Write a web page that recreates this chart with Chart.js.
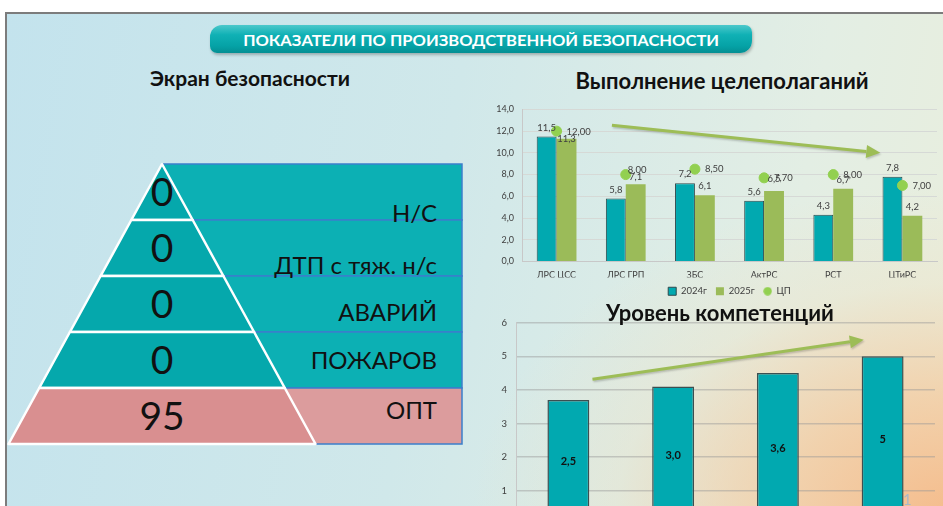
<!DOCTYPE html>
<html><head><meta charset="utf-8">
<script src="https://cdn.jsdelivr.net/npm/chart.js@4.4.1/dist/chart.umd.min.js"></script>
<style>
html,body{margin:0;padding:0;width:943px;height:506px;overflow:hidden;background:#fff;font-family:Lato,"Open Sans",sans-serif;}
#slide{position:absolute;left:5px;top:12px;width:945px;height:500px;border-top:2px solid #7c7c7c;border-left:2px solid #7c7c7c;
 background:
  radial-gradient(ellipse 480px 330px at 100% 100%, rgba(245,188,140,1) 0%, rgba(245,200,155,0.75) 35%, rgba(240,225,195,0.35) 70%, rgba(240,230,205,0) 100%),
  linear-gradient(100deg,#c3e3ed 0%, #d0e8ea 45%, #e3eee4 80%, #e9eedd 100%);}
.abs{position:absolute;}
#banner{left:210px;top:25px;width:542px;height:28px;border-radius:12px 7px 12px 7px;
 background:linear-gradient(to bottom,#4cc8cb 0%,#10b1b5 35%,#05a2a6 75%,#048f93 100%);
 box-shadow:1px 2px 3px rgba(0,0,0,0.25);display:flex;align-items:center;justify-content:center;}
#banner span{color:#fff;font-weight:bold;font-size:16px;white-space:nowrap;display:inline-block;transform-origin:center;}
.title{font-weight:bold;color:#111;white-space:nowrap;transform:translate(-50%,-50%);}
canvas{position:absolute;}
</style></head>
<body>
<div id="slide"></div>
<div id="banner" class="abs"><span id="bannerText"></span></div>
<div id="t1" class="abs title" style="left:250px;top:77px;font-size:21px;"></div>
<div id="t2" class="abs title" style="left:722px;top:80px;font-size:22px;"></div>
<svg id="pyr" class="abs" style="left:0;top:0" width="943" height="506"></svg>
<canvas id="c1" style="left:480px;top:96px" width="463" height="210"></canvas>
<canvas id="c2" style="left:480px;top:308px" width="463" height="231"></canvas>
<div id="t3" class="abs title" style="left:720px;top:312px;font-size:22px;"></div>
<div class="abs" style="left:903px;top:490px;font-size:15px;color:#a9b8c8;">1</div>
<script>
// ---------- DATA ----------
const slideTitle = 'ПОКАЗАТЕЛИ ПО ПРОИЗВОДСТВЕННОЙ БЕЗОПАСНОСТИ';
const pyramidTitle = 'Экран безопасности';
const pyramidValues = ['0','0','0','0','95'];
const pyramidLabels = ['Н/С','ДТП с тяж. н/с','АВАРИЙ','ПОЖАРОВ','ОПТ'];

const goalTitle = 'Выполнение целеполаганий';
const goalCategories = ['ЛРС ЦСС','ЛРС ГРП','ЗБС','АктРС','РСТ','ЦТиРС'];
const goalSeriesNames = ['2024г','2025г','ЦП'];
const goal2024 = [11.5, 5.8, 7.2, 5.6, 4.3, 7.8];
const goal2025 = [11.3, 7.1, 6.1, 6.5, 6.7, 4.2];
const goalTarget = [12.00, 8.00, 8.50, 7.70, 8.00, 7.00];
const goalTicks = [0, 2, 4, 6, 8, 10, 12, 14];

const compTitle = 'Уровень компетенций';
const compCategories = ['1','2','3','4'];
const compValues = [3.7, 4.1, 4.5, 5.0];
const compLabels = ['2,5','3,0','3,6','5'];
const compTicks = [0, 1, 2, 3, 4, 5, 6];

// ---------- STYLE / LAYOUT ----------
const TEAL = '#01a9b0', GREEN = '#9bbb59', DOT = '#92d050', ARROW = '#9dbd56';
// label nudges in pixels (layout only)
const label2025Shift = [[0,9],[0,2],[0,0],[0,-3],[0,0],[0,0]];
const targetLabelShift = [[0,1],[-8,-5],[0,0],[0,0],[0,0],[0,0]];
const fmt = (v, d) => v.toFixed(d).replace('.', ',');

document.getElementById('bannerText').textContent = slideTitle;
document.getElementById('t1').textContent = pyramidTitle;
document.getElementById('t2').textContent = goalTitle;
document.getElementById('t3').textContent = compTitle;
(function(){ const s=document.getElementById('bannerText'); const w=s.getBoundingClientRect().width; s.style.transform='scaleX('+(476/w)+')'; })();

// ---------- PYRAMID ----------
(function(){
  const svg = document.getElementById('pyr'); const NS='http://www.w3.org/2000/svg';
  const apexX=162, topY=164, baseY=444, baseHalf=153.5, panelRight=462;
  const n = pyramidValues.length, rowH=(baseY-topY)/n;
  const pyrFill = i => i===n-1 ? '#d98f90' : '#05a8ac';
  const panFill = i => i===n-1 ? '#dc9c9d' : '#0cb0b4';
  const labelBase = [222, 274, 321, 369, 419];
  const hw = y => (y-topY)/(baseY-topY)*baseHalf;
  const mk=(tag,attrs,txt)=>{const e=document.createElementNS(NS,tag);for(const k in attrs)e.setAttribute(k,attrs[k]);if(txt!==undefined)e.textContent=txt;svg.appendChild(e);return e;};
  for(let i=0;i<n;i++){
    const y0=topY+rowH*i;
    mk('rect',{x:apexX,y:y0,width:panelRight-apexX,height:rowH,fill:panFill(i),stroke:'#3b7fcb','stroke-width':1.5});
  }
  for(let i=0;i<n;i++){
    const y0=topY+rowH*i, y1=y0+rowH;
    const pts=[[apexX-hw(y0),y0],[apexX+hw(y0),y0],[apexX+hw(y1),y1],[apexX-hw(y1),y1]].map(p=>p.join(',')).join(' ');
    mk('polygon',{points:pts,fill:pyrFill(i),stroke:'#ffffff','stroke-width':2.5,'stroke-linejoin':'round'});
  }
  for(let i=0;i<n;i++){
    const y0=topY+rowH*i;
    mk('text',{x:apexX,y:y0+rowH/2+14,'text-anchor':'middle','font-family':'Lato','font-size':39,fill:'#111'},pyramidValues[i]);
    mk('text',{x:437,y:labelBase[i],'text-anchor':'end','font-family':'Lato','font-size':24,fill:'#111'},pyramidLabels[i]);
  }
})();

// small legend dot image
const legendDot = (function(){ const c=document.createElement('canvas'); c.width=9; c.height=9; const g=c.getContext('2d'); g.fillStyle=DOT; g.beginPath(); g.arc(4.5,4.5,4.2,0,Math.PI*2); g.fill(); return c; })();

// ---------- plugins ----------
function arrowPlugin(id, from, to){
  return {id, afterDatasetsDraw(chart){
    const {ctx, scales:{x,y}} = chart;
    const x0=x.getPixelForValue(from[0]), y0=y.getPixelForValue(from[1]);
    const x1=x.getPixelForValue(to[0]), y1=y.getPixelForValue(to[1]);
    const a=Math.atan2(y1-y0,x1-x0), L=14, W=6.5;
    ctx.save(); ctx.strokeStyle=ARROW; ctx.fillStyle=ARROW; ctx.lineWidth=3;
    ctx.shadowColor='rgba(0,0,0,0.2)'; ctx.shadowOffsetX=1; ctx.shadowOffsetY=1.5; ctx.shadowBlur=2;
    ctx.beginPath(); ctx.moveTo(x0,y0); ctx.lineTo(x1-L*Math.cos(a),y1-L*Math.sin(a)); ctx.stroke();
    ctx.beginPath(); ctx.moveTo(x1,y1);
    ctx.lineTo(x1-L*Math.cos(a)+W*Math.sin(a), y1-L*Math.sin(a)-W*Math.cos(a));
    ctx.lineTo(x1-L*Math.cos(a)-W*Math.sin(a), y1-L*Math.sin(a)+W*Math.cos(a));
    ctx.closePath(); ctx.fill(); ctx.restore();
  }};
}
const goalLabels = {id:'goalLabels', afterDatasetsDraw(chart){
  const ctx=chart.ctx; ctx.save(); ctx.font='9.5px Lato'; ctx.fillStyle='#404040'; ctx.textBaseline='middle'; ctx.textAlign='center';
  chart.getDatasetMeta(0).data.forEach((el,i)=>{ ctx.fillText(fmt(goal2024[i],1), el.x, el.y-9); });
  chart.getDatasetMeta(1).data.forEach((el,i)=>{ ctx.fillText(fmt(goal2025[i],1), el.x+label2025Shift[i][0], el.y-9+label2025Shift[i][1]); });
  ctx.textAlign='left';
  chart.getDatasetMeta(2).data.forEach((el,i)=>{ ctx.fillText(fmt(goalTarget[i],2), el.x+10+targetLabelShift[i][0], el.y+targetLabelShift[i][1]); });
  ctx.restore();
}};
const compLabelPlugin = {id:'compLabels', afterDatasetsDraw(chart){
  const ctx=chart.ctx; ctx.save(); ctx.font='bold 11px Lato'; ctx.fillStyle='#111'; ctx.textAlign='center'; ctx.textBaseline='middle';
  chart.getDatasetMeta(0).data.forEach((el,i)=>{ ctx.fillText(compLabels[i], el.x, (el.y+el.base)/2); });
  ctx.restore();
}};

Chart.defaults.font.family = 'Lato';
Chart.defaults.color = '#404040';

// ---------- CHART 1 ----------
new Chart(document.getElementById('c1'), {
  type:'bar',
  data:{ labels: goalCategories, datasets:[
    {label:goalSeriesNames[0], data:goal2024, backgroundColor:TEAL, borderColor:'#2e4a4d', borderWidth:1, pointStyle:'rect', categoryPercentage:0.575, barPercentage:1, order:2},
    {label:goalSeriesNames[1], data:goal2025, backgroundColor:GREEN, borderColor:GREEN, borderWidth:0, pointStyle:'rect', categoryPercentage:0.575, barPercentage:1, order:2},
    {type:'line', label:goalSeriesNames[2], data:goalTarget, showLine:false, pointStyle:'circle', pointRadius:5, pointBackgroundColor:DOT, pointBorderColor:DOT, backgroundColor:DOT, borderColor:DOT, order:0}
  ]},
  options:{ responsive:false, animation:false, devicePixelRatio:1,
    layout:{padding:{top:11,right:3,bottom:0,left:0}},
    plugins:{ tooltip:{enabled:false},
      legend:{position:'bottom', fullSize:false, labels:{usePointStyle:true, boxWidth:8, boxHeight:8, padding:9, font:{size:9.5}, color:'#404040',
        sort:(a,b)=>a.datasetIndex-b.datasetIndex,
        generateLabels(chart){ const items=Chart.defaults.plugins.legend.labels.generateLabels(chart); items.forEach(it=>{ if(it.datasetIndex===2) it.pointStyle=legendDot; }); return items; }}}},
    scales:{
      x:{ grid:{display:false, drawTicks:false}, border:{color:'#c8c8c8'}, ticks:{padding:8, font:{size:9}, color:'#404040'}, afterFit(s){s.height=16;} },
      y:{ min:0, max:14, afterBuildTicks(s){ s.ticks = goalTicks.map(v=>({value:v})); },
          grid:{color:'#d6d9d6', drawTicks:false}, border:{color:'#c8c8c8'},
          ticks:{padding:8, font:{size:9}, color:'#404040', callback:v=>fmt(v,1)}, afterFit(s){s.width=42;} }
    }
  },
  plugins:[goalLabels, arrowPlugin('a1',[0.80,12.55],[4.68,10.0])]
});

// ---------- CHART 2 ----------
new Chart(document.getElementById('c2'), {
  type:'bar',
  data:{ labels: compCategories, datasets:[
    {label:compTitle, data:compValues, backgroundColor:TEAL, borderColor:'#3c4f51', borderWidth:1.5, barPercentage:0.4, categoryPercentage:1}
  ]},
  options:{ responsive:false, animation:false, devicePixelRatio:1,
    layout:{padding:{top:11,right:8,bottom:7,left:0}},
    plugins:{ tooltip:{enabled:false}, legend:{display:false}},
    scales:{
      x:{ display:false },
      y:{ min:0, max:6, afterBuildTicks(s){ s.ticks = compTicks.map(v=>({value:v})); },
          grid:{color:'rgba(150,150,150,0.45)', lineWidth:1.5, drawTicks:false}, border:{color:'#c8c8c8'},
          ticks:{padding:9, font:{size:9.5}, color:'#404040'}, afterFit(s){s.width=36;} }
    }
  },
  plugins:[compLabelPlugin, arrowPlugin('a2',[0.23,4.32],[2.82,5.49])]
});
</script>
</body></html>
